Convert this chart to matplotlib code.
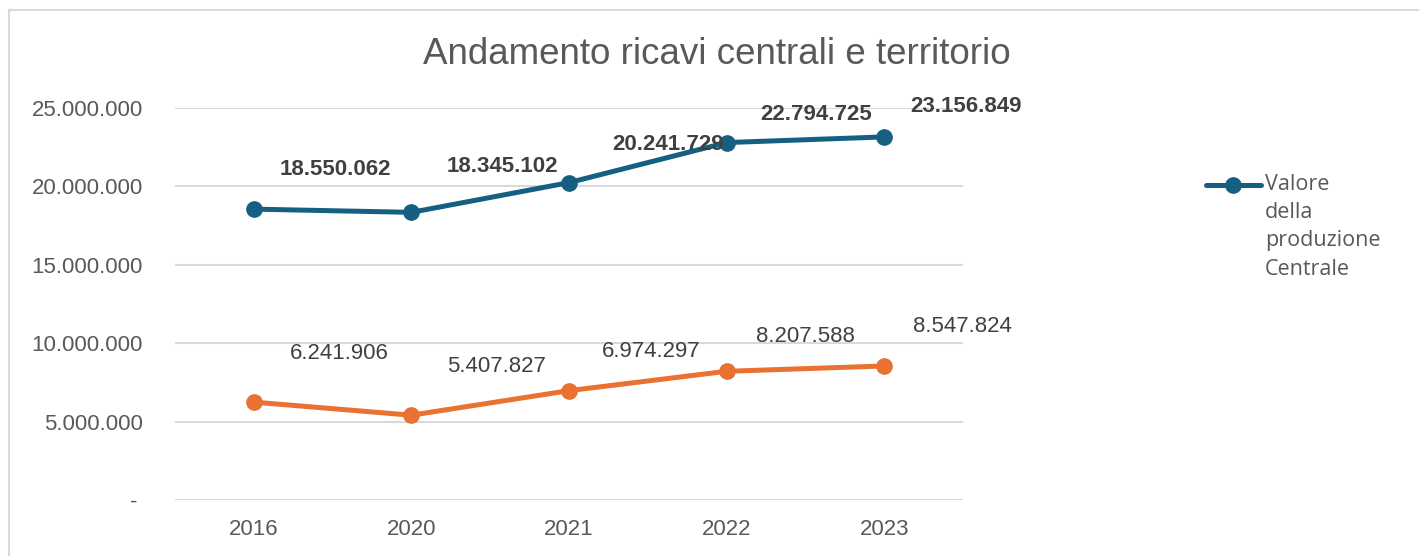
import matplotlib
matplotlib.use('Agg')
import matplotlib.pyplot as plt
from matplotlib.lines import Line2D
from matplotlib.patches import Rectangle
from matplotlib.ticker import FuncFormatter

years = ['2016', '2020', '2021', '2022', '2023']
centrale = [18550062, 18345102, 20241729, 22794725, 23156849]
territorio = [6241906, 5407827, 6974297, 8207588, 8547824]
yticks = [0, 5000000, 10000000, 15000000, 20000000, 25000000]
legend_label = 'Valore\ndella\nproduzione\nCentrale'

# label offsets from their point, in pixels (labels were dragged by hand in the original)
off_centrale = [(82, 40), (91, 46), (99, 38), (90, 28), (82, 30)]
off_territorio = [(86, 49), (85, 49), (82, 39), (79, 35), (78, 39)]

BLUE = '#156082'
ORANGE = '#E97132'
TXT = '#595959'
LBL = '#404040'
PX = 0.72  # points per pixel at dpi 100


def it_fmt(v, pos=None):
    if v == 0:
        return '- '
    return f'{int(v):,}'.replace(',', '.')


plt.rcParams['font.family'] = ['Liberation Sans', 'DejaVu Sans']

fig = plt.figure(figsize=(14.19, 5.56), dpi=100)
# chart frame (partially cut off, like the screenshot)
fig.patches.append(Rectangle((9 / 1419, -0.1), 1.2, 1.1 - 10 / 556,
                             transform=fig.transFigure, fill=False,
                             edgecolor='#D9D9D9', lw=1.5))

ax = fig.add_axes([175 / 1419, 1 - 500 / 556, 788 / 1419, 392 / 556])
x = range(len(years))
ax.plot(x, centrale, '-o', color=BLUE, lw=3.6, ms=11, zorder=3)
ax.plot(x, territorio, '-o', color=ORANGE, lw=3.6, ms=11, zorder=3)

for i, v in enumerate(centrale):
    dx, dy = off_centrale[i]
    ax.annotate(it_fmt(v), (i, v), xytext=(dx * PX, dy * PX), textcoords='offset points',
                ha='center', va='center', fontsize=16, fontweight='bold',
                color=LBL, zorder=4)
for i, v in enumerate(territorio):
    dx, dy = off_territorio[i]
    ax.annotate(it_fmt(v), (i, v), xytext=(dx * PX, dy * PX), textcoords='offset points',
                ha='center', va='center', fontsize=16, color=LBL, zorder=4)

ax.set_xlim(-0.5, len(years) - 0.5)
ax.set_ylim(0, 25000000)
ax.set_xticks(list(x))
ax.set_xticklabels(years)
ax.set_yticks(yticks)
ax.yaxis.set_major_formatter(FuncFormatter(it_fmt))
ax.grid(axis='y', color='#D9D9D9', lw=1.5)
ax.set_axisbelow(True)
for s in ax.spines.values():
    s.set_visible(False)
ax.tick_params(axis='y', length=0, pad=23, labelsize=16, labelcolor=TXT)
ax.tick_params(axis='x', length=0, pad=14, labelsize=16, labelcolor=TXT)

fig.text(717 / 1419, 1 - 55 / 556, 'Andamento ricavi centrali e territorio',
         ha='center', va='center', fontsize=26.5, color=TXT)

# legend: handle aligned with the first text line, as in the original
ly = 1 - 185 / 556
fig.add_artist(Line2D([1206 / 1419, 1261 / 1419], [ly, ly], transform=fig.transFigure,
                      color=BLUE, lw=3.6, solid_capstyle='round'))
fig.add_artist(Line2D([1233 / 1419], [ly], transform=fig.transFigure,
                      color=BLUE, marker='o', ms=11))
fig.text(1265 / 1419, 1 - 174 / 556, legend_label, ha='left', va='top',
         fontsize=15.5, color=TXT, linespacing=1.45,
         family=['Open Sans', 'DejaVu Sans'])

fig.savefig('out.png', dpi=100)
